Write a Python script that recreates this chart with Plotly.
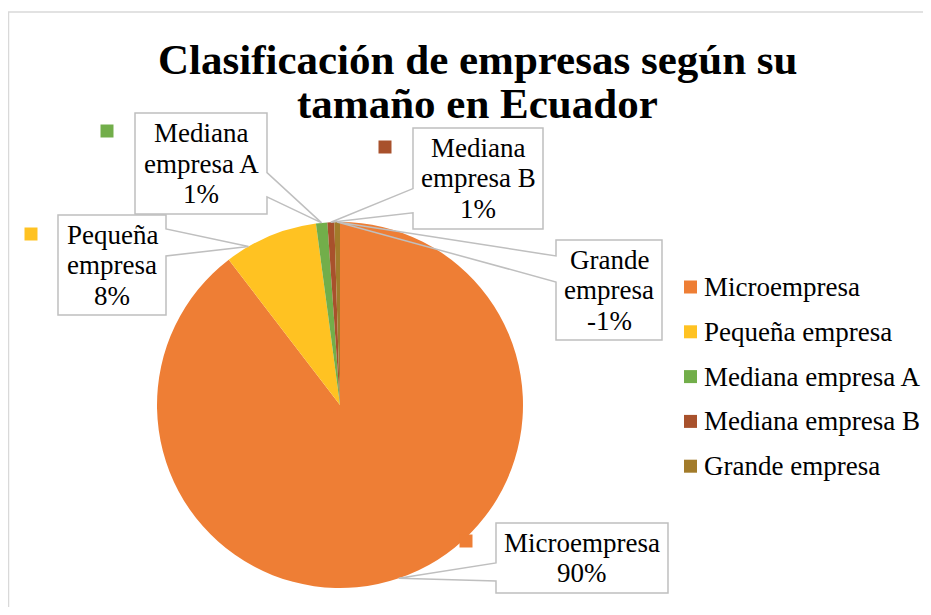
import math
import plotly.graph_objects as go

# ---------------- data ----------------
categories = ["Microempresa", "Pequeña empresa", "Mediana empresa A",
              "Mediana empresa B", "Grande empresa"]
callout_names = ["Microempresa", "Pequeña\nempresa", "Mediana\nempresa A",
                 "Mediana\nempresa B", "Grande\nempresa"]
values = [89.6, 8.3, 1.0, 0.6, -0.5]
title_lines = ["Clasificación de empresas según su", "tamaño en Ecuador"]

# ---------------- style / layout ----------------
colors = ["#EE7E35", "#FFC222", "#72AE4A", "#A8512C", "#A27B2A"]
PAGE_MARGIN = 8          # default body margin of the html page
W, H = 931 - 2 * PAGE_MARGIN, 615 - 2 * PAGE_MARGIN
CX, CY, R = 340, 405, 183
FONT = "Liberation Serif"
GRAY = "#BFBFBF"

def px(x):
    return (x - PAGE_MARGIN) / W

def py(y):
    return 1 - (y - PAGE_MARGIN) / H

abs_vals = [abs(v) for v in values]
total = sum(abs_vals)

def pct_label(v):
    p = v / total * 100
    s = 1 if p >= 0 else -1
    return f"{s * math.floor(abs(p) + 0.5)}%"

fig = go.Figure()
fig.add_trace(go.Pie(
    labels=categories, values=abs_vals, sort=False, direction="clockwise",
    rotation=0, textinfo="none", hoverinfo="label+percent",
    marker=dict(colors=colors, line=dict(width=0)),
    domain=dict(x=[px(CX - R), px(CX + R)], y=[py(CY + R), py(CY - R)]),
    showlegend=False,
))

shapes = []
annotations = []

# chart border
shapes.append(dict(type="rect", xref="paper", yref="paper",
                   x0=px(8.5), y0=py(12), x1=px(960), y1=py(640),
                   line=dict(color="#D9D9D9", width=1.5), layer="below"))

# title
for t, yy in zip(title_lines, [60, 103]):
    annotations.append(dict(text=f"<b>{t}</b>", x=px(477), y=py(yy),
                            xref="paper", yref="paper", showarrow=False,
                            xanchor="center", yanchor="middle",
                            font=dict(family=FONT, size=43, color="black")))

# callouts: box (x0,y0,x1,y1), wedge side, base fractions, tip fraction in slice, marker centre
callout_layout = [
    dict(box=(496, 523, 668, 593), side="left", f=(0.57, 0.83), tip=0.5, mk=(466, 541)),
    dict(box=(58, 215, 166, 315), side="right", f=(0.14, 0.41), tip=0.25, mk=(31, 234)),
    dict(box=(135, 113, 267, 214), side="right", f=(0.59, 0.83), tip=0.5, mk=(107, 131)),
    dict(box=(413, 128, 543, 229), side="left", f=(0.60, 0.84), tip=0.5, mk=(385, 147)),
    dict(box=(556, 240, 662, 340), side="left", f=(0.16, 0.42), tip=0.5, mk=None),
]

cum = 0.0
for i, v in enumerate(abs_vals):
    start = 360 * cum / total
    span = 360 * v / total
    cum += v
    cl = callout_layout[i]
    th = math.radians(start + cl["tip"] * span)
    tx, ty = CX + R * math.sin(th), CY - R * math.cos(th)
    x0, y0, x1, y1 = cl["box"]
    yb0 = y0 + cl["f"][0] * (y1 - y0)
    yb1 = y0 + cl["f"][1] * (y1 - y0)
    if cl["side"] == "right":
        pts = [(x0, y0), (x1, y0), (x1, yb0), (tx, ty), (x1, yb1), (x1, y1), (x0, y1)]
    else:
        pts = [(x0, y0), (x1, y0), (x1, y1), (x0, y1), (x0, yb1), (tx, ty), (x0, yb0)]
    path = "M " + " L ".join(f"{px(a):.5f},{py(b):.5f}" for a, b in pts) + " Z"
    shapes.append(dict(type="path", xref="paper", yref="paper", path=path,
                       line=dict(color=GRAY, width=1.5),
                       fillcolor="rgba(0,0,0,0)", layer="above"))
    lines = callout_names[i].split("\n") + [pct_label(values[i])]
    n = len(lines)
    cxb, cyb = (x0 + x1) / 2, (y0 + y1) / 2
    for j, ln in enumerate(lines):
        annotations.append(dict(text=ln, x=px(cxb), y=py(cyb + (j - (n - 1) / 2) * 30.5),
                                xref="paper", yref="paper", showarrow=False,
                                xanchor="center", yanchor="middle",
                                font=dict(family=FONT, size=27, color="black")))
    if cl["mk"]:
        mx, my = cl["mk"]
        shapes.append(dict(type="rect", xref="paper", yref="paper",
                           x0=px(mx - 6.5), x1=px(mx + 6.5), y0=py(my + 6.5), y1=py(my - 6.5),
                           fillcolor=colors[i], line=dict(width=0), layer="above"))

# legend (manual)
for i, name in enumerate(categories):
    ly = 287 + i * 44.8
    shapes.append(dict(type="rect", xref="paper", yref="paper",
                       x0=px(684), x1=px(697), y0=py(ly + 6.5), y1=py(ly - 6.5),
                       fillcolor=colors[i], line=dict(width=0), layer="above"))
    annotations.append(dict(text=name, x=px(702), y=py(ly), xref="paper", yref="paper",
                            showarrow=False, xanchor="left", yanchor="middle",
                            font=dict(family=FONT, size=27, color="black")))

fig.update_layout(
    width=W, height=H, autosize=False,
    margin=dict(l=0, r=0, t=0, b=0),
    paper_bgcolor="white", plot_bgcolor="white",
    shapes=shapes, annotations=annotations,
)

fig.write_html("out.html")
